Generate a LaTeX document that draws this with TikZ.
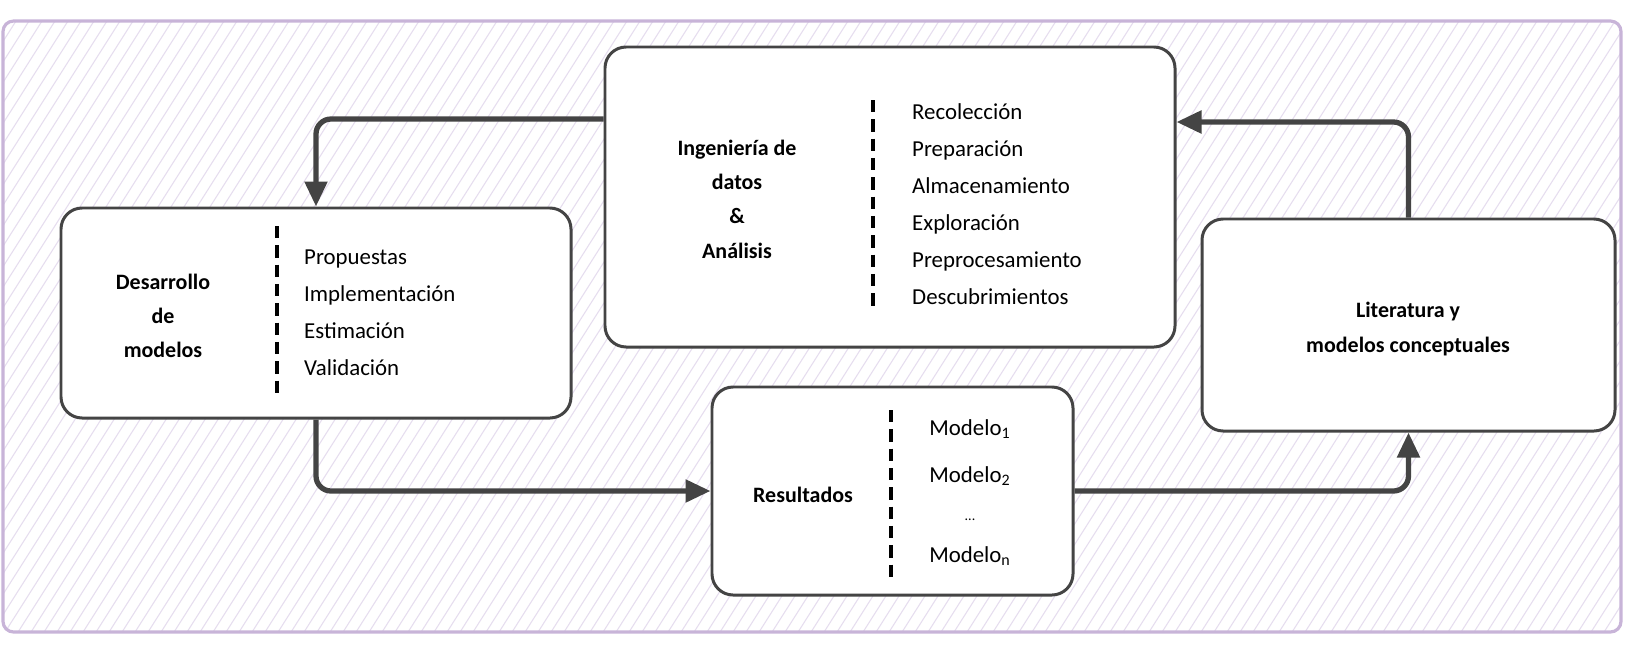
\documentclass[tikz,border=0pt]{standalone}
\usepackage{fontspec}
\setmainfont{Carlito}
\usepackage{xcolor}
\definecolor{SKink}{HTML}{444444}
\definecolor{SKframe}{HTML}{C8B4D8}
\definecolor{SKhatch}{HTML}{E6DDEF}
\usetikzlibrary{arrows.meta, positioning}

\begin{document}
\begin{tikzpicture}[
  x=0.2mm, y=-0.2mm,
  box/.style={draw=SKink, line width=1.7pt, fill=white, rounded corners=12pt,
    inner sep=0pt},
  flow/.style={draw=SKink, line width=3pt, rounded corners=3mm,
    -{Triangle[length=5mm, width=4.4mm, fill=SKink]}},
  sep/.style={draw=black, line width=2pt, dash pattern=on 7pt off 4pt},
  title/.style={font=\fontsize{12.5}{19.5}\selectfont\bfseries, align=center},
  items/.style={font=\fontsize{13}{21}\selectfont, align=left, anchor=west},
  hatch/.style={draw=SKhatch, line width=0.6pt}
]
\useasboundingbox (0,0) rectangle (1650,663);

% background
\begin{scope}
  \clip[rounded corners=6pt] (3,21) rectangle (1621,632);
  \fill[white] (3,21) rectangle (1621,632);
  \foreach \i in {-40,...,130}
    \draw[hatch] (\i*13,640) -- ++(400,-630);
\end{scope}
\draw[draw=SKframe, line width=1.8pt, rounded corners=6pt] (3,21) rectangle (1621,632);

% boxes
\node[box, minimum width=114mm, minimum height=60mm] (ing) at (890,197) {};
\node[box, minimum width=102mm, minimum height=42mm] (dev) at (316,313) {};
\node[box, minimum width=72.2mm, minimum height=41.6mm] (res) at (892.5,491) {};
\node[box, minimum width=82.6mm, minimum height=42.4mm] (lit) at (1408.5,325) {};

% Desarrollo de modelos
\node[title] (devtitle) at (163,316) {Desarrollo\\de\\modelos};
\coordinate (devsepA) at (277,226);
\coordinate (devsepB) at (277,395);
\draw[sep] (devsepA) -- (devsepB);
\node[items] (devlist) at (298,313) {Propuestas\\Implementación\\Estimación\\Validación};

% Ingenieria de datos
\node[title] (ingtitle) at (737,199) {Ingeniería de\\datos\\\&\\Análisis};
\coordinate (ingsepA) at (873,100);
\coordinate (ingsepB) at (873,307);
\draw[sep] (ingsepA) -- (ingsepB);
\node[items] (inglist) at (906,204) {Recolección\\Preparación\\Almacenamiento\\Exploración\\Preprocesamiento\\Descubrimientos};

% Resultados
\node[title] (restitle) at (803,495) {Resultados};
\coordinate (ressepA) at (891,410);
\coordinate (ressepB) at (891,577);
\draw[sep] (ressepA) -- (ressepB);
\node[font=\fontsize{13}{21}\selectfont] (mone) at (970,429) {Modelo\textsubscript{1}};
\node[font=\fontsize{13}{21}\selectfont] (mtwo) at (970,476) {Modelo\textsubscript{2}};
\node[font=\fontsize{8}{10}\selectfont] (mdots) at (970,520) {...};
\node[font=\fontsize{13}{21}\selectfont] (mlast) at (970,556) {Modelo\textsubscript{n}};

% Literatura
\node[title] (littitle) at (1408,329) {Literatura y\\modelos conceptuales};

% connectors
\draw[flow] ([yshift=15.6mm]ing.west) -| (dev.north);
\draw[flow] (dev.south) |- (res.west);
\draw[flow] (res.east) -| (lit.south);
\draw[flow] (lit.north) |- ([yshift=15mm]ing.east);
\end{tikzpicture}
\end{document}
